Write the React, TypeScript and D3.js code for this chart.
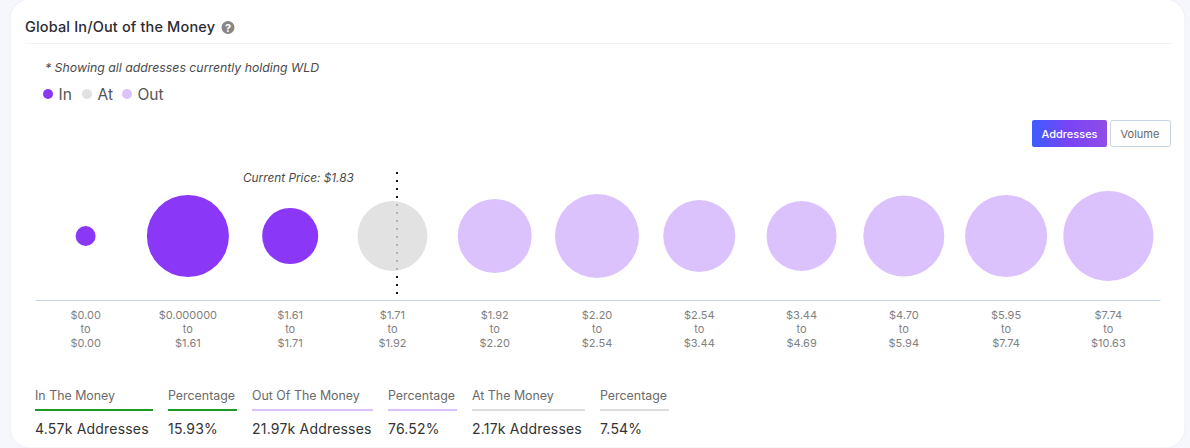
// src/App.tsx

import React, { useEffect, useRef } from 'react';
import * as d3 from 'd3';

// price buckets, low to high
const rangeLow = ['$0.00', '$0.000000', '$1.61', '$1.71', '$1.92', '$2.20', '$2.54', '$3.44', '$4.70', '$5.95', '$7.74'];
const rangeHigh = ['$0.00', '$1.61', '$1.71', '$1.92', '$2.20', '$2.54', '$3.44', '$4.69', '$5.94', '$7.74', '$10.63'];
// addresses per bucket
const addresses = [178, 2995, 1397, 2170, 2437, 3140, 2307, 2180, 2920, 2992, 3605];
const status = ['In', 'In', 'In', 'At', 'Out', 'Out', 'Out', 'Out', 'Out', 'Out', 'Out'];

const legendNames = ['In', 'At', 'Out'];
const legendColors = ['#8a37f8', '#e1e1e1', '#dcc2fd'];

const summaryLabels = ['In The Money', 'Percentage', 'Out Of The Money', 'Percentage', 'At The Money', 'Percentage'];
const summaryValues = ['4.57k Addresses', '15.93%', '21.97k Addresses', '76.52%', '2.17k Addresses', '7.54%'];
const summaryColors = ['#1c9a27', '#1c9a27', '#dcc2fd', '#dcc2fd', '#dddddd', '#dddddd'];
const summaryLeft = [35, 168, 252, 388, 472, 600];
const summaryWidth = [118, 69, 121, 69, 113, 69];

const font = 'Inter, "Open Sans", sans-serif';

const Chart: React.FC = () => {
  const svgRef = useRef<SVGSVGElement>(null);

  useEffect(() => {
    const width = 1190;
    const height = 448;
    const svg = d3.select(svgRef.current).attr('width', width).attr('height', height);
    svg.selectAll('*').remove();

    const defs = svg.append('defs');
    const grad = defs.append('linearGradient').attr('id', 'btn');
    grad.append('stop').attr('offset', '0%').attr('stop-color', '#3d5cff');
    grad.append('stop').attr('offset', '50%').attr('stop-color', '#7a44f5');
    grad.append('stop').attr('offset', '100%').attr('stop-color', '#8f4de8');

    // page and card
    svg.append('rect').attr('width', width).attr('height', height).attr('fill', '#f5f7fc');
    svg.append('rect')
      .attr('x', 10).attr('y', -1).attr('width', 1175).attr('height', 449)
      .attr('rx', 20).attr('fill', '#fff').attr('stroke', '#eef0f5');

    // header
    svg.append('text').attr('x', 25).attr('y', 32)
      .attr('font-family', font).attr('font-size', 14.5).attr('font-weight', 500).attr('letter-spacing', 0.15).attr('fill', '#2b2b33')
      .text('Global In/Out of the Money');
    svg.append('circle').attr('cx', 228).attr('cy', 27.5).attr('r', 6.5).attr('fill', '#868686');
    svg.append('text').attr('x', 228).attr('y', 31.5).attr('text-anchor', 'middle')
      .attr('font-family', font).attr('font-size', 11).attr('font-weight', 700).attr('fill', '#fff')
      .text('?');
    svg.append('line').attr('x1', 25).attr('x2', 1171).attr('y1', 43.5).attr('y2', 43.5).attr('stroke', '#f2f2f4');

    svg.append('text').attr('x', 45).attr('y', 72)
      .attr('font-family', font).attr('font-size', 12.3).attr('font-style', 'italic').attr('fill', '#4a4a4a')
      .text('* Showing all addresses currently holding WLD');

    // legend
    const legendX = [48, 87, 127];
    legendNames.forEach((name, i) => {
      svg.append('circle').attr('cx', legendX[i]).attr('cy', 94).attr('r', 5).attr('fill', legendColors[i]);
      svg.append('text').attr('x', legendX[i] + 10.5).attr('y', 99.5)
        .attr('font-family', font).attr('font-size', 15.5).attr('fill', '#555')
        .text(name);
    });

    // toggle buttons
    svg.append('rect').attr('x', 1032).attr('y', 120).attr('width', 75).attr('height', 27)
      .attr('rx', 2).attr('fill', 'url(#btn)');
    svg.append('text').attr('x', 1069.5).attr('y', 137.5).attr('text-anchor', 'middle')
      .attr('font-family', font).attr('font-size', 11).attr('font-weight', 500).attr('fill', '#fff')
      .text('Addresses');
    svg.append('rect').attr('x', 1110.5).attr('y', 120.5).attr('width', 60).attr('height', 26)
      .attr('rx', 2).attr('fill', '#fff').attr('stroke', '#c5d5e4');
    svg.append('text').attr('x', 1140).attr('y', 137.5).attr('text-anchor', 'middle')
      .attr('font-family', font).attr('font-size', 11).attr('fill', '#666')
      .text('Volume');

    // scales
    const keys = d3.range(addresses.length).map(String);
    const x = d3.scaleBand().domain(keys).range([34.5, 1159.5]);
    const r = d3.scaleSqrt().domain([0, d3.max(addresses) as number]).range([0, 45]);
    const color = d3.scaleOrdinal<string>().domain(legendNames).range(legendColors);
    const cy = 236;

    // current price marker
    svg.append('line').attr('x1', 397).attr('x2', 397).attr('y1', 172).attr('y2', 294)
      .attr('stroke', '#111').attr('stroke-width', 2).attr('stroke-dasharray', '2 6');
    svg.append('text').attr('x', 243).attr('y', 182)
      .attr('font-family', font).attr('font-size', 11.8).attr('font-style', 'italic').attr('fill', '#4a4a4a')
      .text('Current Price: $1.83');

    // bubbles
    svg.append('g').selectAll('circle')
      .data(addresses)
      .enter()
      .append('circle')
      .attr('cx', (_, i) => (x(String(i)) as number) + x.bandwidth() / 2)
      .attr('cy', cy)
      .attr('r', d => r(d))
      .attr('fill', (_, i) => (status[i] === 'At' ? '#dbdbdb' : color(status[i])))
      .attr('fill-opacity', (_, i) => (status[i] === 'At' ? 0.8 : 1));

    // axis
    const axis = svg.append('g')
      .attr('transform', 'translate(0.5,300)')
      .call(d3.axisBottom(x).tickSize(0).tickFormat(() => ''));
    axis.select('.domain').attr('stroke', '#c5d5e8');
    axis.selectAll('.tick text').remove();

    const labels = svg.append('g')
      .attr('font-family', font).attr('font-size', 11).attr('fill', '#808080').attr('text-anchor', 'middle');
    keys.forEach((k, i) => {
      const cx = (x(k) as number) + x.bandwidth() / 2;
      [rangeLow[i], 'to', rangeHigh[i]].forEach((t, j) => {
        labels.append('text').attr('x', cx).attr('y', 319 + j * 14).text(t);
      });
    });

    // summary row
    summaryLabels.forEach((label, i) => {
      svg.append('text').attr('x', summaryLeft[i]).attr('y', 400)
        .attr('font-family', font).attr('font-size', 12.4).attr('fill', '#6a6a6a')
        .text(label);
      svg.append('line')
        .attr('x1', summaryLeft[i]).attr('x2', summaryLeft[i] + summaryWidth[i])
        .attr('y1', 410).attr('y2', 410)
        .attr('stroke', summaryColors[i]).attr('stroke-width', 2);
      svg.append('text').attr('x', summaryLeft[i]).attr('y', 434)
        .attr('font-family', font).attr('font-size', 14).attr('letter-spacing', 0.2).attr('fill', '#333')
        .text(summaryValues[i]);
    });
  }, []);

  return <svg ref={svgRef} style={{ position: 'absolute', left: 0, top: 0, display: 'block' }}></svg>;
};

const App: React.FC = () => {
  return <Chart />;
};

export default App;
